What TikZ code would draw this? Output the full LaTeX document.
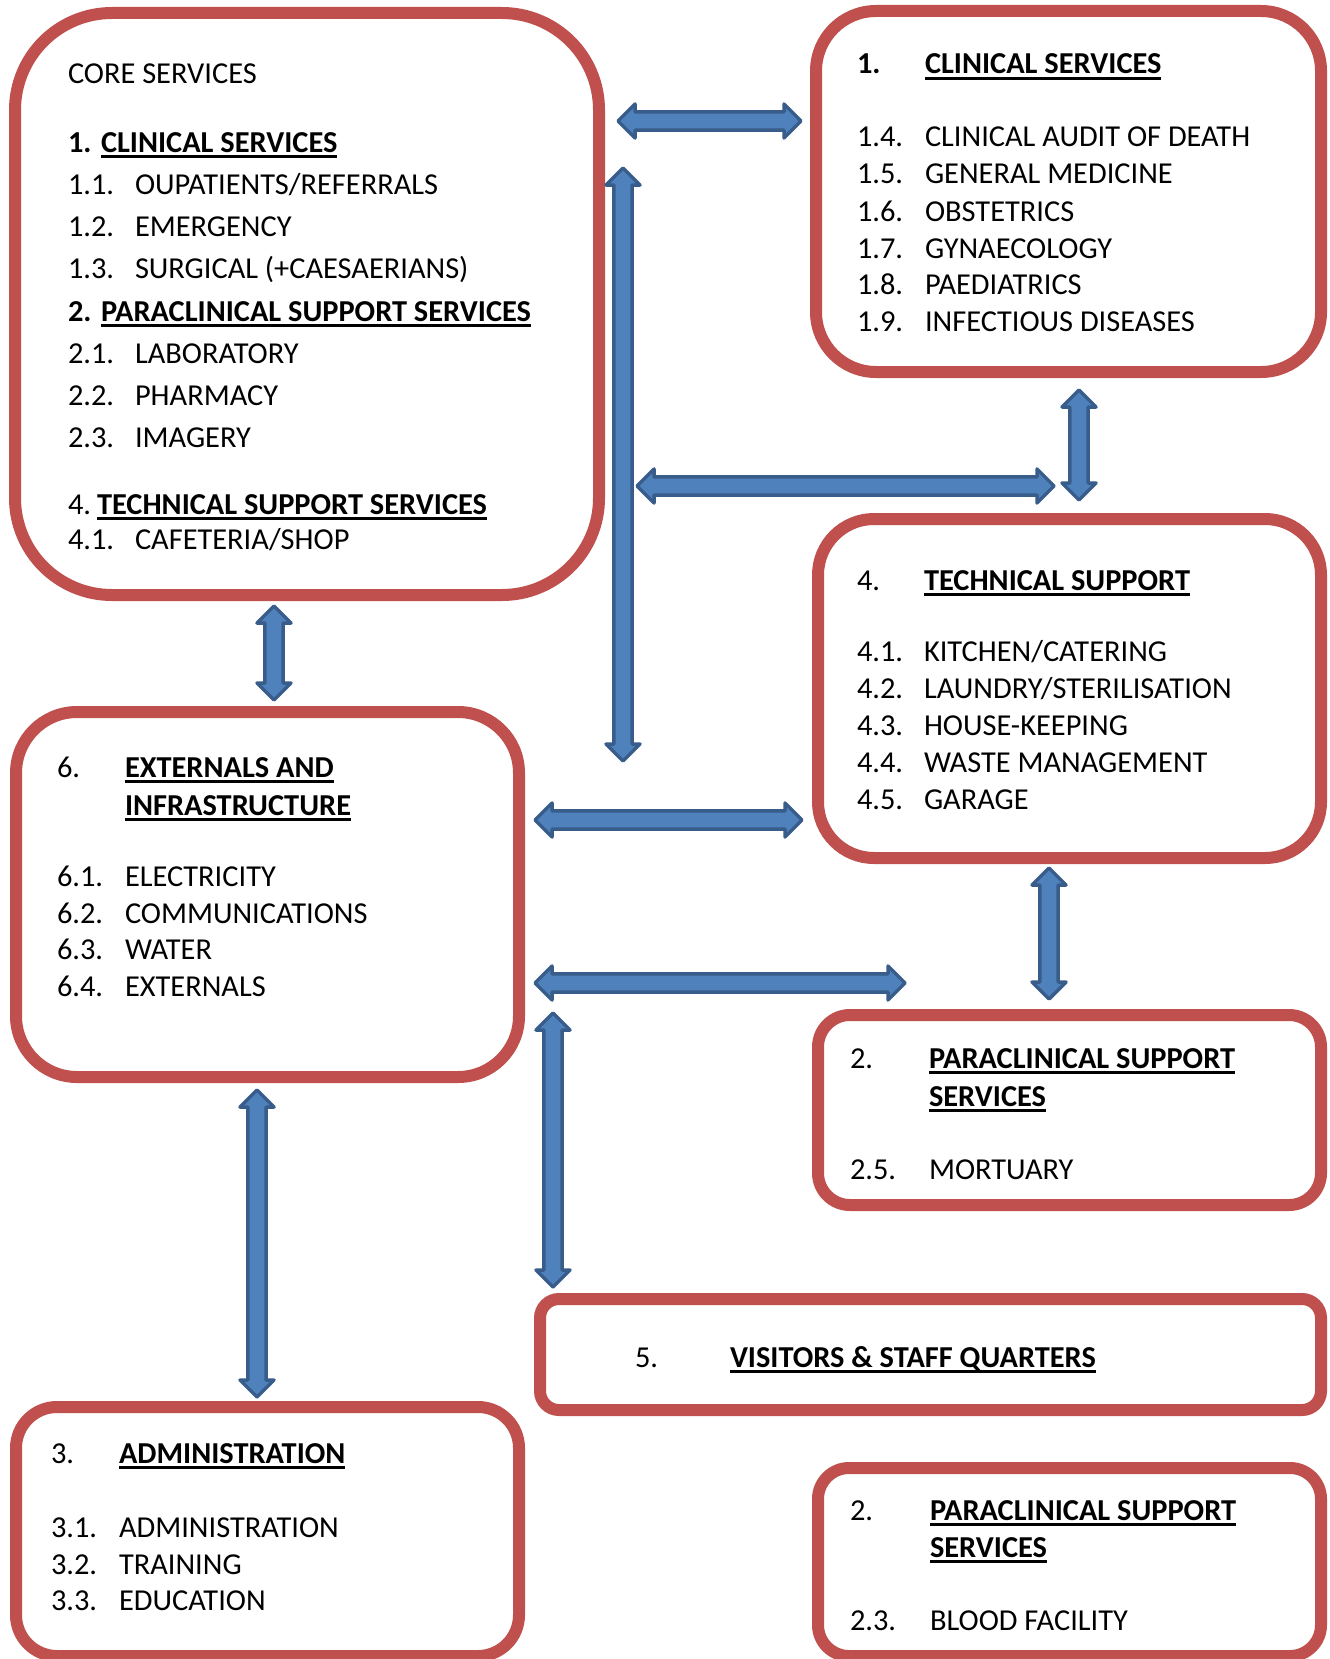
\documentclass[tikz,border=0pt]{standalone}
\usepackage{fontspec}
\setmainfont{Carlito}
\usetikzlibrary{calc}
\definecolor{boxred}{HTML}{C0504D}
\definecolor{arrfill}{HTML}{4F81BD}
\definecolor{arrline}{HTML}{385D8A}
\newsavebox\ulbox
\newcommand\ulb[1]{\sbox\ulbox{\bfseries #1}\rlap{\rule[-2.9pt]{\wd\ulbox}{1.45pt}}\usebox\ulbox}
\newcommand\harr[2]{\path[blockarrow] let \p1=(#1), \p2=(#2) in
  (\x1,\y1) -- (\x1+8.5pt,\y1+8.5pt) -- (\x1+8.5pt,\y1+4.6pt) -- (\x2-8.5pt,\y1+4.6pt) -- (\x2-8.5pt,\y1+8.5pt) -- (\x2,\y1)
  -- (\x2-8.5pt,\y1-8.5pt) -- (\x2-8.5pt,\y1-4.6pt) -- (\x1+8.5pt,\y1-4.6pt) -- (\x1+8.5pt,\y1-8.5pt) -- cycle;}
\newcommand\varr[2]{\path[blockarrow] let \p1=(#1), \p2=(#2) in
  (\x1,\y1) -- (\x1+8.5pt,\y1-8.5pt) -- (\x1+4.6pt,\y1-8.5pt) -- (\x1+4.6pt,\y2+8.5pt) -- (\x1+8.5pt,\y2+8.5pt) -- (\x1,\y2)
  -- (\x1-8.5pt,\y2+8.5pt) -- (\x1-4.6pt,\y2+8.5pt) -- (\x1-4.6pt,\y1-8.5pt) -- (\x1-8.5pt,\y1-8.5pt) -- cycle;}
\newcommand\row[6]{\node[txt] (#1a) at (#2,#4) {#5}; \node[txt] (#1b) at (#3,#4) {#6};}
\tikzset{
  box/.style={draw=boxred, line width=6pt, inner sep=0pt, outer sep=0pt},
  txt/.style={anchor=base west, inner sep=0pt, outer sep=0pt, font=\fontsize{15.2}{18}\selectfont},
  blockarrow/.style={fill=arrfill, draw=arrline, line width=1.75pt, line join=round}
}
\begin{document}
\begin{tikzpicture}[x=0.5pt,y=-0.5pt]
\useasboundingbox (0,0) rectangle (1329,1659);
\fill[white] (0,0) rectangle (1329,1659);
% boxes
\node[box, minimum width=292pt, minimum height=291pt, rounded corners=48.5pt] (A) at (307,304) {};
\node[box, minimum width=252.5pt, minimum height=180.5pt, rounded corners=30pt] (B) at (1068.5,191.5) {};
\node[box, minimum width=251.5pt, minimum height=169.5pt, rounded corners=28pt] (C) at (1069.5,688.5) {};
\node[box, minimum width=251.5pt, minimum height=182.5pt, rounded corners=30.5pt] (D) at (267.5,894.5) {};
\node[box, minimum width=251.5pt, minimum height=95pt, rounded corners=16pt] (E) at (1069.5,1110) {};
\node[box, minimum width=390.5pt, minimum height=55.5pt, rounded corners=9.5pt] (F) at (930.5,1354.5) {};
\node[box, minimum width=251.5pt, minimum height=124.5pt, rounded corners=20.5pt] (G) at (267.5,1531.5) {};
\node[box, minimum width=251.5pt, minimum height=94pt, rounded corners=15.5pt] (H) at (1069.5,1562) {};
% box A text
\node[txt] (a0) at (68,84) {CORE SERVICES};
\row{a1}{68}{101}{152}{\textbf{1.}}{\ulb{CLINICAL SERVICES}}
\row{a2}{68}{135}{194}{1.1.}{OUPATIENTS/REFERRALS}
\row{a3}{68}{135}{236}{1.2.}{EMERGENCY}
\row{a4}{68}{135}{278}{1.3.}{SURGICAL (+CAESAERIANS)}
\row{a5}{68}{101}{321}{\textbf{2.}}{\ulb{PARACLINICAL SUPPORT SERVICES}}
\row{a6}{68}{135}{363}{2.1.}{LABORATORY}
\row{a7}{68}{135}{405}{2.2.}{PHARMACY}
\row{a8}{68}{135}{447}{2.3.}{IMAGERY}
\row{a9}{68}{97}{514}{4.}{\ulb{TECHNICAL SUPPORT SERVICES}}
\row{a10}{68}{135}{549}{4.1.}{CAFETERIA/SHOP}
% box B text
\row{b0}{857}{925}{74}{\textbf{1.}}{\ulb{CLINICAL SERVICES}}
\row{b1}{857}{925}{147}{1.4.}{CLINICAL AUDIT OF DEATH}
\row{b2}{857}{925}{184}{1.5.}{GENERAL MEDICINE}
\row{b3}{857}{925}{221}{1.6.}{OBSTETRICS}
\row{b4}{857}{925}{258}{1.7.}{GYNAECOLOGY}
\row{b5}{857}{925}{294}{1.8.}{PAEDIATRICS}
\row{b6}{857}{925}{331}{1.9.}{INFECTIOUS DISEASES}
% box C text
\row{c0}{857}{924}{590}{4.}{\ulb{TECHNICAL SUPPORT}}
\row{c1}{857}{924}{661}{4.1.}{KITCHEN/CATERING}
\row{c2}{857}{924}{698}{4.2.}{LAUNDRY/STERILISATION}
\row{c3}{857}{924}{735}{4.3.}{HOUSE-KEEPING}
\row{c4}{857}{924}{772}{4.4.}{WASTE MANAGEMENT}
\row{c5}{857}{924}{809}{4.5.}{GARAGE}
% box D text
\row{d0}{57}{125}{777}{6.}{\ulb{EXTERNALS AND}}
\node[txt] (d0c) at (125,815) {\ulb{INFRASTRUCTURE}};
\row{d1}{57}{125}{886}{6.1.}{ELECTRICITY}
\row{d2}{57}{125}{923}{6.2.}{COMMUNICATIONS}
\row{d3}{57}{125}{959}{6.3.}{WATER}
\row{d4}{57}{125}{996}{6.4.}{EXTERNALS}
% box E text
\row{e0}{850}{929}{1068}{2.}{\ulb{PARACLINICAL SUPPORT}}
\node[txt] (e0c) at (929,1106) {\ulb{SERVICES}};
\row{e1}{850}{929}{1179}{2.5.}{MORTUARY}
% box F text
\row{f0}{635}{730}{1367}{5.}{\ulb{VISITORS \& STAFF QUARTERS}}
% box G text
\row{g0}{51}{119}{1463}{3.}{\ulb{ADMINISTRATION}}
\row{g1}{51}{119}{1537}{3.1.}{ADMINISTRATION}
\row{g2}{51}{119}{1574}{3.2.}{TRAINING}
\row{g3}{51}{119}{1610}{3.3.}{EDUCATION}
% box H text
\row{h0}{850}{930}{1520}{2.}{\ulb{PARACLINICAL SUPPORT}}
\node[txt] (h0c) at (930,1557) {\ulb{SERVICES}};
\row{h1}{850}{930}{1630}{2.3.}{BLOOD FACILITY}
% arrow end points
\coordinate (p1s) at (618,121);  \coordinate (p1e) at (801,121);
\coordinate (p2s) at (623,168);  \coordinate (p2e) at (623,761);
\coordinate (p3s) at (637,486);  \coordinate (p3e) at (1054,486);
\coordinate (p4s) at (1079,390); \coordinate (p4e) at (1079,500);
\coordinate (p5s) at (274,606);  \coordinate (p5e) at (274,700);
\coordinate (p6s) at (535,820);  \coordinate (p6e) at (802,820);
\coordinate (p7s) at (1049,868); \coordinate (p7e) at (1049,999);
\coordinate (p8s) at (535,983);  \coordinate (p8e) at (905,983);
\coordinate (p9s) at (553,1013); \coordinate (p9e) at (553,1287);
\coordinate (p10s) at (257,1090); \coordinate (p10e) at (257,1397);
% arrows
\harr{p1s}{p1e}
\varr{p2s}{p2e}
\harr{p3s}{p3e}
\varr{p4s}{p4e}
\varr{p5s}{p5e}
\harr{p6s}{p6e}
\varr{p7s}{p7e}
\harr{p8s}{p8e}
\varr{p9s}{p9e}
\varr{p10s}{p10e}
\end{tikzpicture}
\end{document}
